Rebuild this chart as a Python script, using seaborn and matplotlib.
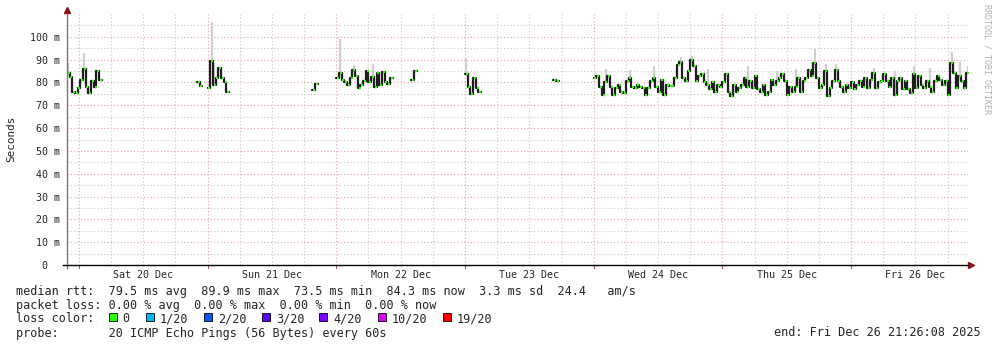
import numpy as np
import pandas as pd
import matplotlib
matplotlib.use("Agg")
import matplotlib.pyplot as plt
import matplotlib.dates as mdates
from matplotlib.transforms import ScaledTranslation
from matplotlib.patches import Rectangle
import seaborn as sns

# ---------------- data (median RTT in ms, 30-minute samples) ----------------
seg_starts = ["2025-12-19 21:45", "2025-12-20 22:00", "2025-12-21 00:00",
              "2025-12-21 19:30", "2025-12-22 00:00", "2025-12-22 14:00",
              "2025-12-23 00:00", "2025-12-23 16:30", "2025-12-24 00:00"]
seg1 = [84, 82.5, 76, 75.5, 77.5, 81, 86, 78, 75.5, 80.5, 78, 85, 81]
seg2 = [80, 78.5]
seg3 = [77.5, 89.5, 79, 82, 86.5, 82, 80, 76]
seg4 = [76.5, 79.5]
seg5 = [82, 84, 81, 80, 79, 82, 85.5, 83, 77.5, 79, 80.5, 85, 80, 82.5,
        78, 84, 79, 84.5, 80, 79.5, 82]
seg6 = [81, 85]
seg7 = [83.5, 78, 75, 82, 77.5, 76]
seg8 = [81, 80.5]
seg9 = [82, 83, 78, 74.5, 80, 83, 78, 74.5, 77.5, 79, 76, 75.5, 80.5, 82,
        78, 77.5, 79, 78, 77.5, 74.5, 77.5, 80.5, 82, 78, 76, 81, 74.5, 79,
        78.5, 78.5, 82, 87.5, 89, 82, 80.5, 85, 90, 87, 80.5, 83, 83.5, 80,
        79, 77, 80, 76, 79, 78,
        80, 83.5, 76, 74, 79, 76, 77.5, 79, 82, 78, 80.5, 77.5, 83, 77, 76,
        79, 74.5, 76, 81, 79, 80.5, 82, 83.5, 80.5, 74.5, 78, 76, 78, 82, 76,
        80.5, 82, 85.5, 83, 88.5, 82, 77.5, 79, 85, 74, 77.5, 80.5, 85.5,
        80.5, 78, 76, 79, 77.5,
        80, 77, 79, 80.5, 78, 82, 77.5, 81, 84, 77.5, 80, 80.5, 83.5, 80.5,
        78, 82, 74.5, 80.5, 82, 77, 80.5, 77, 75.5, 83.5, 77.5, 83, 79, 77.5,
        80.5, 78, 76, 80.5, 83, 81, 79, 80.5, 74.5, 88.5, 84, 77.5, 83, 80.5,
        77.5, 84]
segments = [seg1, seg2, seg3, seg4, seg5, seg6, seg7, seg8, seg9]

# smoke spikes (maximum RTT)
spike_times = ["2025-12-19 21:45", "2025-12-20 00:45", "2025-12-21 00:30",
               "2025-12-21 01:00", "2025-12-22 00:30", "2025-12-22 03:00",
               "2025-12-22 06:30", "2025-12-23 00:00", "2025-12-24 11:00",
               "2025-12-24 16:00", "2025-12-24 18:00", "2025-12-25 04:30",
               "2025-12-25 17:00", "2025-12-25 19:00", "2025-12-25 21:00",
               "2025-12-26 04:00", "2025-12-26 11:30", "2025-12-26 18:30",
               "2025-12-26 20:00", "2025-12-26 21:30", "2025-12-24 02:00",
               "2025-12-24 06:30", "2025-12-24 21:00", "2025-12-25 10:00",
               "2025-12-25 13:30", "2025-12-26 08:00", "2025-12-26 14:30"]
spike_tops = [88.5, 93, 106.5, 88.5, 99, 87.5, 88, 90.5, 87, 91, 91.5, 87,
              94.5, 88, 88, 86.5, 87, 93.5, 89, 87, 86, 85.5, 86, 85, 86,
              85, 86.5]

y_ticks = [0, 10, 20, 30, 40, 50, 60, 70, 80, 90, 100]
y_tick_labels = ["0", "10 m", "20 m", "30 m", "40 m", "50 m", "60 m",
                 "70 m", "80 m", "90 m", "100 m"]
day_labels = ["Sat 20 Dec", "Sun 21 Dec", "Mon 22 Dec", "Tue 23 Dec",
              "Wed 24 Dec", "Thu 25 Dec", "Fri 26 Dec"]

loss_labels = ["0", "1/20", "2/20", "3/20", "4/20", "10/20", "19/20"]
loss_colors = ["#26ff00", "#00b8ff", "#0059ff", "#5e00ff", "#7e00ff",
               "#dd00ff", "#ff0000"]

# ---------------- build frames ----------------
frames = []
for i, (st, vals) in enumerate(zip(seg_starts, segments)):
    t = pd.date_range(st, periods=len(vals), freq="30min")
    frames.append(pd.DataFrame({"time": t, "rtt": vals, "seg": i}))
df = pd.concat(frames, ignore_index=True)

# ---------------- figure ----------------
sns.set_theme(style="white")
plt.rcParams["font.family"] = ["DejaVu Sans Mono", "DejaVu Sans"]
W, H = 997, 347
fig = plt.figure(figsize=(W / 100, H / 100), dpi=100)
fig.patch.set_facecolor("white")
ax = fig.add_axes([67 / W, 1 - 265 / H, 901 / W, 251 / H])
ax.set_facecolor("white")

x0 = pd.Timestamp("2025-12-19 21:46")
x1 = pd.Timestamp("2025-12-26 21:49")

# grid
RED = "#e3a0a0"
GREY = "#c8c8c8"
dots = (0, (1, 2))
for v in np.arange(5, 110, 10):
    ax.axhline(v, color=GREY, lw=0.8, ls=dots, zorder=0)
for v in y_ticks[1:]:
    ax.axhline(v, color=RED, lw=0.8, ls=dots, zorder=0)
days = pd.date_range("2025-12-20", "2025-12-26", freq="1D")
six = pd.date_range("2025-12-19 00:00", "2025-12-27", freq="6h")
for t in six:
    if x0 < t < x1 and t not in days:
        ax.axvline(t, color=GREY, lw=0.8, ls=dots, zorder=0)
for t in days:
    ax.axvline(t, color=RED, lw=0.8, ls=dots, zorder=0)

# smoke spikes
st = pd.to_datetime(spike_times)
bottoms = []
for t in st:
    idx = (df["time"] - t).abs().idxmin()
    bottoms.append(df.loc[idx, "rtt"])
ax.vlines(st + pd.Timedelta("15min"), bottoms, spike_tops, color="#cfcfcf",
          lw=1.6, zorder=1)

# median line (black steps) and green loss-colour dots
for i in range(len(segments)):
    d = df[df["seg"] == i]
    ext = pd.concat([d, pd.DataFrame({"time": [d["time"].iloc[-1] + pd.Timedelta("30min")],
                                      "rtt": [d["rtt"].iloc[-1]], "seg": [i]})])
    sns.lineplot(data=ext, x="time", y="rtt", ax=ax, color="#1e1e1e", lw=1.6,
                 drawstyle="steps-post", estimator=None, sort=False, zorder=2,
                 legend=False)
df["mid"] = df["time"] + pd.Timedelta("20min")
sns.scatterplot(data=df, x="mid", y="rtt", ax=ax, color="#26ff00", marker="s",
                s=2.6, linewidth=0, zorder=3, legend=False)
ax.set_xlim(x0, x1)
ax.set_ylim(0, 110)

# axes styling
ax.set_xlabel("")
ax.set_ylabel("")
ax.set_yticks(y_ticks)
ax.set_yticklabels(y_tick_labels, fontsize=7.2)
ax.tick_params(axis="y", length=0, pad=5)
lab0 = ax.get_yticklabels()[0]
lab0.set_transform(lab0.get_transform() + ScaledTranslation(-0.13, 0, fig.dpi_scale_trans))
noon = days + pd.Timedelta("12h")
ax.set_xticks(noon)
ax.set_xticklabels(day_labels, fontsize=7.2)
ax.tick_params(axis="x", length=0, pad=3.5)
for s in ["top", "right"]:
    ax.spines[s].set_visible(False)
ax.spines["left"].set_color("#777777")
ax.spines["left"].set_linewidth(1.0)
ax.spines["left"].set_bounds(-1.3, 110)
ax.spines["bottom"].set_color("#000000")
ax.spines["bottom"].set_linewidth(1.0)
ax.spines["bottom"].set_bounds(mdates.date2num(x0 - pd.Timedelta("50min")),
                               mdates.date2num(x1))
ax.spines["left"].set_zorder(5)
ax.spines["bottom"].set_zorder(5)
ax.plot([0], [1 + 4 / 251], marker="^", color="#8b1010", ms=4.5,
        transform=ax.transAxes, clip_on=False)
ax.plot([1 + 3 / 901], [0], marker=">", color="#8b1010", ms=4.5,
        transform=ax.transAxes, clip_on=False)
# small day ticks below axis
for t in days:
    ax.plot([t, t], [0, -1.3], color="#b05050", lw=0.8, clip_on=False)

# texts
def fx(x):
    return x / W

def fy(y):
    return 1 - y / H

fig.text(fx(11), fy(139), "Seconds", rotation=90, ha="center", va="center",
         fontsize=7.9)
fig.text(fx(987), fy(4), "RRDTOOL / TOBI OETIKER", rotation=270, ha="center",
         va="top", fontsize=6.0, color="#b0b0b0")
FS = 8.5
fig.text(fx(16), fy(291), "median rtt:  79.5 ms avg  89.9 ms max  73.5 ms min  84.3 ms now  3.3 ms sd  24.4   am/s",
         ha="left", va="center", fontsize=FS)
fig.text(fx(16), fy(305), "packet loss: 0.00 % avg  0.00 % max  0.00 % min  0.00 % now",
         ha="left", va="center", fontsize=FS)
fig.text(fx(16), fy(319), "loss color:", ha="left", va="center", fontsize=FS)
sq_x = [108.5, 146, 204, 262, 319, 378, 443]
for x, lab, col in zip(sq_x, loss_labels, loss_colors):
    fig.patches.append(Rectangle((fx(x), fy(321)), 8 / W, 8 / H, facecolor=col,
                                 edgecolor="black", lw=0.6,
                                 transform=fig.transFigure, figure=fig))
    fig.text(fx(x + 14), fy(319), lab, ha="left", va="center", fontsize=FS)
fig.text(fx(16), fy(333), "probe:       20 ICMP Echo Pings (56 Bytes) every 60s",
         ha="left", va="center", fontsize=FS)
fig.text(fx(981), fy(333), "end: Fri Dec 26 21:26:08 2025", ha="right",
         va="center", fontsize=FS)

fig.savefig("out.png", dpi=100, facecolor="white")
